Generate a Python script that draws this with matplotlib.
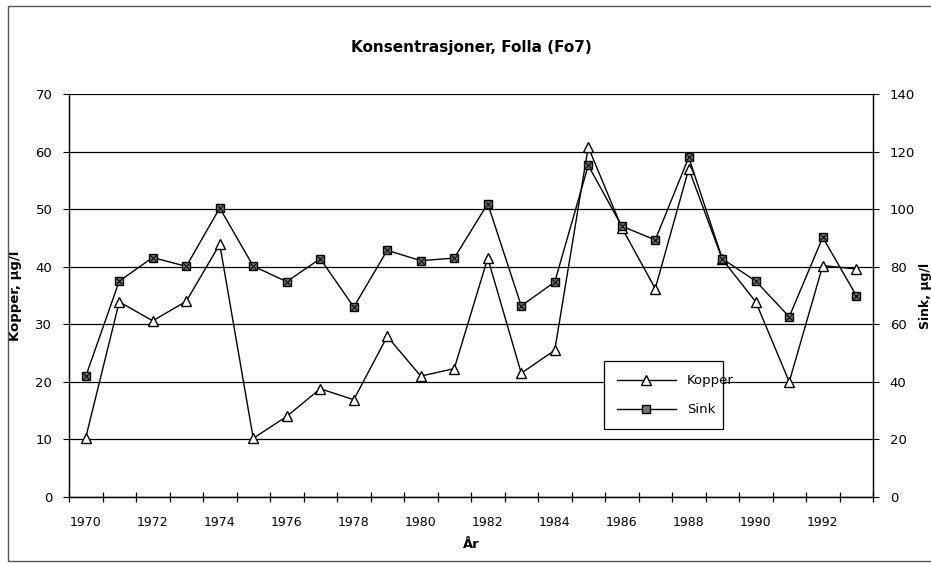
import matplotlib
matplotlib.use("Agg")
import matplotlib.pyplot as plt
from matplotlib.patches import Rectangle

years = list(range(1970, 1994))
kopper = [10.3, 33.9, 30.6, 34.0, 43.9, 10.2, 14.0, 18.8, 16.9, 27.9, 21.0, 22.3,
          41.5, 21.5, 25.5, 60.8, 46.8, 36.2, 57.0, 41.3, 33.9, 20.0, 40.2, 39.6]
sink = [41.9, 75.0, 83.2, 80.1, 100.4, 80.2, 74.8, 82.8, 66.0, 85.7, 82.1, 83.0,
        101.9, 66.4, 74.7, 115.2, 94.1, 89.3, 118.0, 82.8, 75.0, 62.6, 90.2, 70.0]
year_labels = [str(y) if y % 2 == 0 else "" for y in years]

W, H = 931, 563
fig = plt.figure(figsize=(W / 100, H / 100), dpi=100)
ax = fig.add_axes([69 / W, 1 - 497 / H, (873 - 69) / W, (497 - 94) / H])
ax2 = ax.twinx()

# outer frame of the chart
fig.patches.append(Rectangle((8 / W, 1 - 561 / H), 1.0, (561 - 6) / H,
                             transform=fig.transFigure, fill=False,
                             edgecolor="#555555", linewidth=1.0))

xs = list(range(len(years)))
l1, = ax.plot(xs, kopper, color="black", lw=1.0, marker="^", ms=7,
              mfc="white", mec="black", mew=1.0, label="Kopper", zorder=3)
l2, = ax2.plot(xs, sink, color="black", lw=1.0, marker="s", ms=6,
               mfc="#777777", mec="black", mew=1.0, label="Sink", zorder=3)
ax2.plot(xs, sink, ls="none", marker="x", ms=4, mec="black", mew=0.8, zorder=4)

ax.set_xlim(-0.5, len(years) - 0.5)
ax.set_ylim(0, 70)
ax2.set_ylim(0, 140)
ax.set_yticks(range(0, 71, 10))
ax2.set_yticks(range(0, 141, 20))
ax.yaxis.grid(True, color="black", lw=0.9)
ax.set_axisbelow(True)

ax.set_xticks(xs)
ax.set_xticklabels(year_labels)
ax.set_xticks([x - 0.5 for x in xs] + [len(years) - 0.5], minor=True)
ax.tick_params(axis="x", which="major", length=0, pad=14, labelsize=9)
ax.tick_params(axis="x", which="minor", direction="inout", length=7, width=0.9)
ax.tick_params(axis="y", direction="out", length=4, labelsize=9.5, pad=8)
ax2.tick_params(axis="y", direction="out", length=4, labelsize=9.5, pad=8)

for a in (ax, ax2):
    a.spines["top"].set_visible(False)
    for s in ("left", "right", "bottom"):
        a.spines[s].set_linewidth(0.9)

ax.set_title("Konsentrasjoner, Folla (Fo7)", fontsize=11, fontweight="bold", pad=30)
ax.set_xlabel("År", fontsize=9.5, fontweight="bold", labelpad=6)
ax.set_ylabel("Kopper, µg/l", fontsize=9.5, fontweight="bold")
ax.yaxis.set_label_coords((22 - 69) / (873 - 69), 0.5)
ax2.set_ylabel("Sink, µg/l", fontsize=9, fontweight="bold", rotation=90)
ax2.yaxis.set_label_position("right")
ax2.yaxis.set_label_coords((919 - 69) / (873 - 69), 0.5)

leg = ax2.legend(handles=[l1, l2], loc="lower left",
                 bbox_to_anchor=((597 - 69) / (873 - 69), (497 - 436) / (497 - 94),
                                 (730 - 597) / (873 - 69), (436 - 355) / (497 - 94)),
                 mode="expand", fancybox=False, framealpha=1, edgecolor="black",
                 fontsize=9.5, handlelength=4.5, labelspacing=1.2, borderpad=1.0)
leg.get_frame().set_linewidth(0.9)

fig.savefig("out.png", dpi=100)
